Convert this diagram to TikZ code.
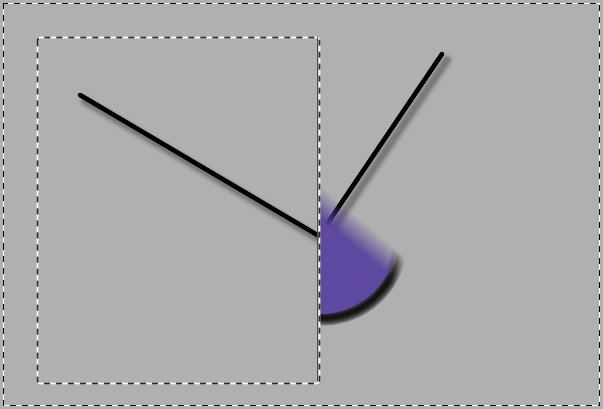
\documentclass[tikz,border=0pt]{standalone}
\usetikzlibrary{calc}
\definecolor{bggray}{HTML}{B0B0B0}
\definecolor{wedge}{HTML}{5D49A0}
\definecolor{dashdark}{HTML}{2A2A2A}
% half plane of the points whose projection on the up-right direction from #1 is at most #2
\newcommand{\hplane}[2]{($(#1)+(-50:-300)+(40:300)$) -- ($(#1)+(-50:#2)+(40:300)$) -- ($(#1)+(-50:#2)+(40:-300)$) -- ($(#1)+(-50:-300)+(40:-300)$) -- cycle}
\tikzset{
  stick/.style={line width=4.6pt, line cap=round, black},
  stickshadow/.style={line cap=round, black},
  frameback/.style={white, line width=#1},
  framefront/.style={dashdark, line width=#1, dash pattern=on 6pt off 6pt},
}
\begin{document}
\begin{tikzpicture}[x=1pt,y=-1pt]
\useasboundingbox (0,0) rectangle (603,409);
% background
\fill[bggray] (0,0) rectangle (603,409);
% outer frame
\draw[frameback=1.8pt] (3.5,3.5) rectangle (599.5,405.5);
\draw[framefront=1.8pt, black] (3.5,3.5) rectangle (599.5,405.5);
% points
\coordinate (O) at (319,236);
\coordinate (S) at (322,240);
\coordinate (A) at (80,95);
\coordinate (B) at (442,54);
% line shadows
\foreach \w/\o in {14/0.04,11/0.05,9/0.06,7/0.08,5/0.1}{
  \draw[stickshadow, line width=\w pt, opacity=\o] ($(A)+(5,6)$) -- ($(O)+(5,6)$);
  \draw[stickshadow, line width=\w pt, opacity=\o] ($(B)+(5,6)$) -- ($(O)+(5,6)$);
}
% lines
\draw[stick] (A) -- (O);
\draw[stick] (B) -- (O);
% wedge shadow along the rim, fading like the wedge
\foreach \q in {12,14,...,38}{
  \begin{scope}
    \clip \hplane{O}{\q};
    \foreach \w in {3,6,9,12,15}{
      \draw[black, opacity=0.022, line width=\w pt, shift={(S)}] plot[domain=-60:92, samples=60] (\x:78);
    }
  \end{scope}
}
% wedge: solid part
\begin{scope}
  \clip \hplane{O}{14};
  \fill[wedge, shift={(O)}] (0,0) -- plot[domain=-90:90, samples=80] (\x:78) -- cycle;
\end{scope}
% wedge: fading part
\foreach \j in {1,...,24}{
  \pgfmathsetmacro{\q}{14+25*\j/24}
  \pgfmathsetmacro{\al}{1/(\j+1)}
  \begin{scope}
    \clip \hplane{O}{\q};
    \fill[wedge, opacity=\al, shift={(O)}] (0,0) -- plot[domain=-90:90, samples=80] (\x:78) -- cycle;
  \end{scope}
}
% inner frame
\draw[frameback=1.6pt, rounded corners=3pt] (37.5,37.5) rectangle (319.5,383.5);
\draw[framefront=1.6pt, rounded corners=3pt] (37.5,37.5) rectangle (319.5,383.5);
% red line
\coordinate (R1) at (317.2,37);
\coordinate (R2) at (317.2,381);
\draw[red, line width=1.1pt] (R1) -- (R2);
\end{tikzpicture}
\end{document}
